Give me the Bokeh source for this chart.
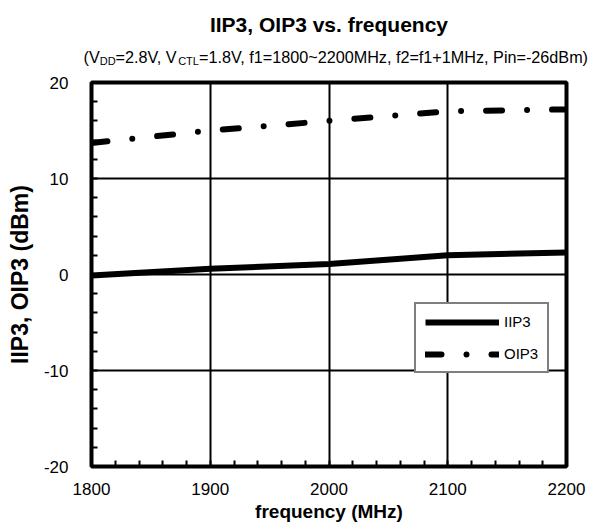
from bokeh.plotting import figure
from bokeh.layouts import column
from bokeh.models import (Range1d, SingleIntervalTicker, Legend, LegendItem, Label,
                          CustomJSTickFormatter)
from bokeh.embed import file_html
from bokeh.resources import INLINE

# ---- data ----
freq = [1800, 1900, 2000, 2100, 2200]
iip3 = [-0.1, 0.6, 1.1, 2.0, 2.3]
oip3 = [13.7, 15.0, 16.0, 17.0, 17.2]
series_names = ["IIP3", "OIP3"]
title_text = "IIP3, OIP3 vs. frequency"
x_label = "frequency (MHz)"
y_label = "IIP3, OIP3 (dBm)"
sub_parts = [("(V", False), ("DD", True), ("=2.8V, V", False), ("CTL", True),
             ("=1.8V, f1=1800~2200MHz, f2=f1+1MHz, Pin=-26dBm)", False)]

FONT = "Liberation Sans"
W_TOTAL = 592

# ---- header (title + subtitle) ----
head = figure(width=W_TOTAL, height=74, output_backend="svg", toolbar_location=None,
              x_axis_type=None, y_axis_type=None, min_border=0,
              x_range=Range1d(0, 1), y_range=Range1d(0, 1))
head.frame_align = False
head.outline_line_color = None
head.grid.visible = False
head.add_layout(Label(x=328.5, y=50, x_units="screen", y_units="screen", text=title_text,
                      text_align="center", text_baseline="alphabetic", text_font=FONT,
                      text_font_size="21px", text_font_style="bold", text_color="black"))

CW = {'(': .333, ')': .333, 'V': .667, 'D': .722, 'C': .722, 'T': .611, 'L': .556, '=': .584,
      '.': .278, ',': .278, ' ': .278, 'f': .278, '~': .584, 'M': .833, 'H': .722, 'z': .5,
      '+': .584, 'P': .667, 'i': .222, 'n': .556, '-': .333, 'd': .556, 'B': .667, 'm': .833}
def tw(s, size):
    return sum(CW.get(c, .556) for c in s) * size

xpos = 83.0
for txt, sub in sub_parts:
    size = 11 if sub else 16.2
    head.add_layout(Label(x=xpos, y=14 if sub else 18, x_units="screen", y_units="screen",
                          text=txt, text_align="left", text_baseline="alphabetic",
                          text_font=FONT, text_font_size=f"{size}px", text_color="black"))
    xpos += tw(txt, size)

# ---- main plot ----
p = figure(width=W_TOTAL, height=454, output_backend="svg", toolbar_location=None,
           x_range=Range1d(1800, 2200), y_range=Range1d(-20, 20),
           min_border_left=91, min_border_right=26, min_border_top=8, min_border_bottom=62)
p.frame_align = False
p.background_fill_color = "white"
p.border_fill_color = "white"
p.outline_line_color = "black"
p.outline_line_width = 4

p.xaxis.ticker = SingleIntervalTicker(interval=100, num_minor_ticks=5)
p.yaxis.ticker = SingleIntervalTicker(interval=10, num_minor_ticks=5)
fmt = CustomJSTickFormatter(code="return String(tick);")
for ax in (p.xaxis, p.yaxis):
    ax.formatter = fmt
    ax.axis_line_color = None
    ax.major_tick_in = 0
    ax.major_tick_out = 0
    ax.minor_tick_in = 6
    ax.minor_tick_out = 0
    ax.minor_tick_line_width = 2
    ax.minor_tick_line_color = "black"
    ax.major_label_text_font = FONT
    ax.major_label_text_font_size = "17px"
    ax.major_label_text_color = "black"
    ax.axis_label_text_font = FONT
    ax.axis_label_text_font_style = "bold"
    ax.axis_label_text_color = "black"
p.xaxis.axis_label = x_label
p.yaxis.axis_label = y_label
p.xaxis.axis_label_text_font_size = "19px"
p.yaxis.axis_label_text_font_size = "23px"
p.xaxis.major_label_standoff = 16
p.xaxis.axis_label_standoff = 3
p.yaxis.major_label_standoff = 23
p.yaxis.axis_label_standoff = 8

for g in (p.xgrid, p.ygrid):
    g.grid_line_color = "black"
    g.grid_line_width = 2

r1 = p.line(freq, iip3, line_color="black", line_width=6)
r2 = p.line(freq, oip3, line_color="black", line_width=6, line_dash="16 25 0 25",
            line_cap="round")

legend = Legend(items=[LegendItem(label=series_names[0], renderers=[r1]),
                       LegendItem(label=series_names[1], renderers=[r2])],
                location=(323, 93))
legend.glyph_width = 74
legend.glyph_height = 16
legend.label_height = 16
legend.spacing = 15
legend.padding = 9
legend.label_standoff = 5
legend.label_text_font = FONT
legend.label_text_font_size = "15px"
legend.label_text_color = "black"
legend.border_line_color = "black"
legend.border_line_width = 2
legend.background_fill_color = "white"
legend.background_fill_alpha = 1
p.add_layout(legend, "center")

layout = column(head, p, spacing=0)
open("out.html", "w").write(file_html(layout, INLINE))
